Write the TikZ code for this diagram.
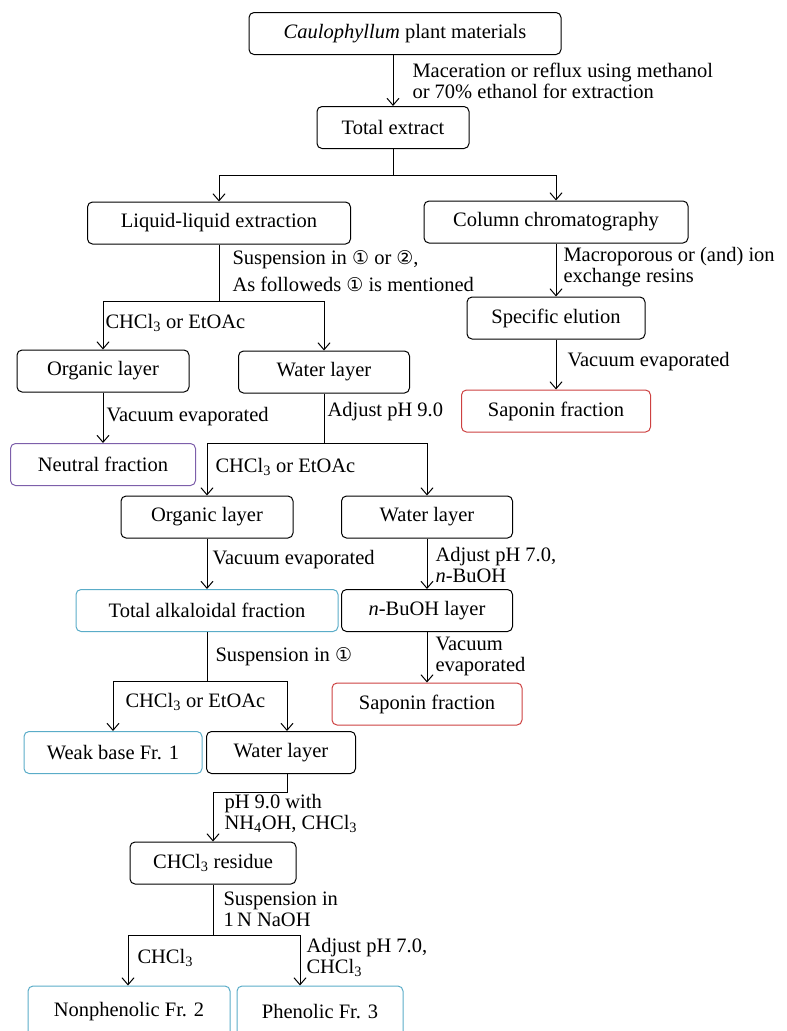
\documentclass[tikz,border=0pt]{standalone}
\usepackage{fontspec}
\setmainfont{Liberation Serif}
\newfontfamily\circfont{DejaVu Sans}
\newcommand{\cnum}[1]{{\circfont\fontsize{19}{19}\selectfont #1}}
\usetikzlibrary{arrows.meta}
\definecolor{fraccyan}{RGB}{90,172,200}
\definecolor{fracred}{RGB}{205,65,65}
\definecolor{fracpurple}{RGB}{125,95,170}

\begin{document}
\begin{tikzpicture}[x=1pt, y=-1pt, font=\fontsize{20.5}{21}\selectfont, line width=1pt, >={Straight Barb[length=7pt,width=12pt]},
    main/.style = {draw, rounded corners=5pt, minimum height=42pt, inner sep=0pt},
    frac/.style = {main, draw=fraccyan},
    sapo/.style = {main, draw=fracred},
    neut/.style = {main, draw=fracpurple},
    lbl/.style = {anchor=west, align=left, inner sep=0pt}]
                \clip (0,0) rectangle (787,1031);
                % boxes
                \node[main, minimum width=312pt] (plant) at (405,33.5) {\textit{Caulophyllum} plant materials};
                \node[main, minimum width=152pt] (tot) at (393,127.5) {Total extract};
                \node[main, minimum width=263pt] (lle) at (219,223) {Liquid-liquid extraction};
                \node[main, minimum width=264pt] (col) at (556,222) {Column chromatography};
                \node[main, minimum width=172pt] (org1) at (103,371) {Organic layer};
                \node[main, minimum width=171pt] (wat1) at (324,372) {Water layer};
                \node[main, minimum width=178pt] (spe) at (556,318) {Specific elution};
                \node[sapo, minimum width=189pt] (sap1) at (556,411) {Saponin fraction};
                \node[neut, minimum width=185pt] (neu) at (103,464.5) {Neutral fraction};
                \node[main, minimum width=172pt] (org2) at (207,517) {Organic layer};
                \node[main, minimum width=171pt] (wat2) at (427,517) {Water layer};
                \node[frac, minimum width=262pt] (alk) at (207,610.5) {Total alkaloidal fraction};
                \node[main, minimum width=171pt] (buoh) at (427,610.5) {\textit{n}-BuOH layer};
                \node[sapo, minimum width=190pt] (sap2) at (427,704) {Saponin fraction};
                \node[frac, minimum width=178pt] (weak) at (113,752.5) {Weak base Fr. 1};
                \node[main, minimum width=149pt] (wat3) at (281,752.5) {Water layer};
                \node[main, minimum width=166pt] (res) at (213,863) {CHCl\textsubscript{3} residue};
                \node[frac, minimum width=202pt, minimum height=52pt] (nph) at (129,1012) {Nonphenolic Fr. 2};
                \node[frac, minimum width=166pt, minimum height=52pt] (phe) at (320,1012) {Phenolic Fr. 3};
                % branch points
                \coordinate (b1) at (393,175);
                \coordinate (b2) at (219,301);
                \coordinate (b3) at (324,443);
                \coordinate (b4) at (207,681);
                \coordinate (b5) at (213,935);
                % connectors
                \draw[->] (tot.north |- plant.south) -- (tot.north);
                \draw (tot) -- (b1);
                \draw[->] (b1) -| (lle.north);
                \draw[->] (b1) -| (col.north);
                \draw[->] (col) -- (spe);
                \draw[->] (spe) -- (sap1);
                \draw (lle) -- (b2);
                \draw[->] (b2) -| (org1.north);
                \draw[->] (b2) -| (wat1.north);
                \draw[->] (org1) -- (neu);
                \draw (wat1) -- (b3);
                \draw[->] (b3) -| (org2.north);
                \draw[->] (b3) -| (wat2.north);
                \draw[->] (org2) -- (alk);
                \draw[->] (wat2) -- (buoh);
                \draw[->] (buoh) -- (sap2);
                \draw (alk) -- (b4);
                \draw[->] (b4) -| (weak.north);
                \draw[->] (b4) -| ([xshift=6pt]wat3.north);
                \draw[->] ([xshift=6pt]wat3.south) -- ++(0,18) -| (res.north);
                \draw (res) -- (b5);
                \draw[->] (b5) -| ([xshift=-1pt]nph.north);
                \draw[->] (b5) -| ([xshift=-20pt]phe.north);
                % labels
                \node[lbl] (m1) at (412,81) {Maceration or reflux using methanol\\or 70\% ethanol for extraction};
                \node[lbl] (m2) at (232,271) {Suspension in \cnum{①} or \cnum{②},\\[6pt]As followeds \cnum{①} is mentioned};
                \node[lbl] (m3) at (105,323) {CHCl\textsubscript{3} or EtOAc};
                \node[lbl] (m4) at (563,267) {Macroporous or (and) ion\\exchange resins};
                \node[lbl] (m5) at (567,362) {Vacuum evaporated};
                \node[lbl] (m6) at (106,417) {Vacuum evaporated};
                \node[lbl] (m7) at (327,412) {Adjust pH 9.0};
                \node[lbl] (m8) at (215,467) {CHCl\textsubscript{3} or EtOAc};
                \node[lbl] (m9) at (212,560) {Vacuum evaporated};
                \node[lbl] (m10) at (435,565) {Adjust pH 7.0,\\\textit{n}-BuOH};
                \node[lbl] (m11) at (435,656.5) {Vacuum\\evaporated};
                \node[lbl] (m12) at (215,657) {Suspension in \cnum{①}};
                \node[lbl] (m13) at (125,702) {CHCl\textsubscript{3} or EtOAc};
                \node[lbl] (m14) at (224,813.5) {pH 9.0 with\\NH\textsubscript{4}OH, CHCl\textsubscript{3}};
                \node[lbl] (m15) at (223,909.5) {Suspension in\\1\,N NaOH};
                \node[lbl] (m16) at (137,958) {CHCl\textsubscript{3}};
                \node[lbl] (m17) at (306,957.5) {Adjust pH 7.0,\\CHCl\textsubscript{3}};
            \end{tikzpicture}
\end{document}
